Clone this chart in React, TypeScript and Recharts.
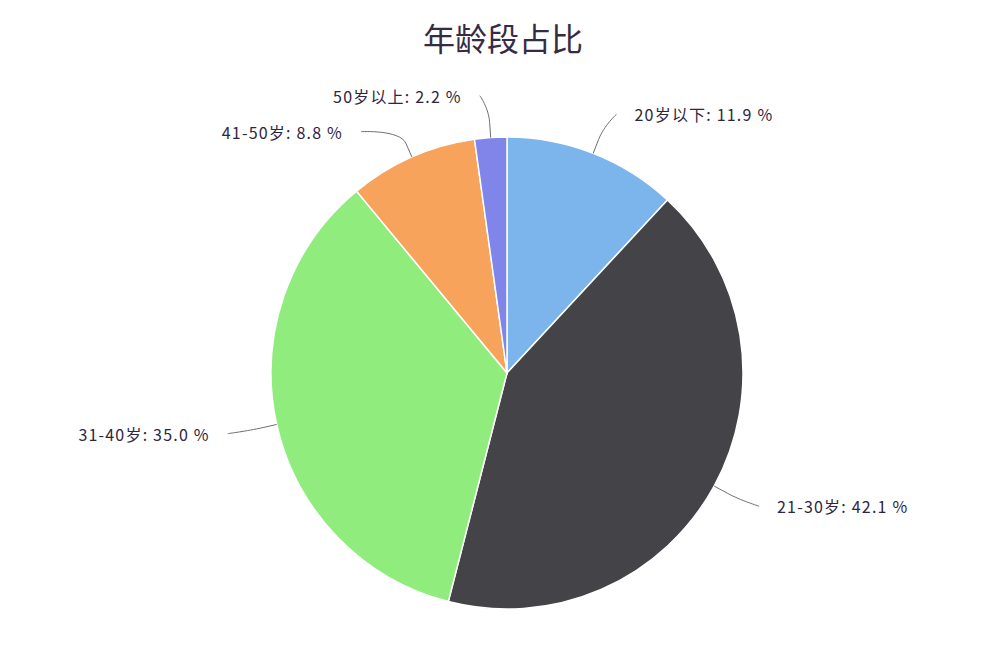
import { Cell, Pie, PieChart } from 'recharts';

const categories = ['20岁以下', '21-30岁', '31-40岁', '41-50岁', '50岁以上'];
const shares = [11.9, 42.1, 35.0, 8.8, 2.2];
const colors = ['#7cb5ec', '#434348', '#90ed7d', '#f7a35c', '#8085e9'];

const data = categories.map((name, i) => ({ name, value: shares[i] }));

const W = 1006;
const H = 672;
const CX = 507;
const CY = 373;
const R = 236;
const LABEL_R = 278;
const MIN_GAP = 36;
const RAD = Math.PI / 180;
const FONT = '"Noto Sans CJK SC", "Noto Sans", sans-serif';

// naive Highcharts-like overlap fix: push lower label down on each side
function labelYs(): number[] {
  const total = shares.reduce((a, b) => a + b, 0);
  let cum = 0;
  const items = shares.map((v, i) => {
    const mid = 90 - (360 * (cum + v / 2)) / total;
    cum += v;
    return { i, y: CY - LABEL_R * Math.sin(mid * RAD), right: Math.cos(mid * RAD) >= 0 };
  });
  const out: number[] = new Array(shares.length);
  [true, false].forEach((side) => {
    const list = items.filter((it) => it.right === side).sort((a, b) => a.y - b.y);
    list.forEach((it, k) => {
      if (k > 0 && it.y < out[list[k - 1].i] + MIN_GAP) out[it.i] = out[list[k - 1].i] + MIN_GAP;
      else out[it.i] = it.y;
    });
  });
  return out;
}

const ys = labelYs();

function renderLabel(props: any) {
  const { cx, cy, midAngle, outerRadius, index, name, value } = props;
  const cos = Math.cos(-midAngle * RAD);
  const sin = Math.sin(-midAngle * RAD);
  const right = cos >= 0;
  const ex = cx + outerRadius * cos;
  const ey = cy + outerRadius * sin;
  const bx = cx + (outerRadius + 15) * cos;
  const by = cy + (outerRadius + 15) * sin;
  const ly = ys[index];
  const dy = ly - cy;
  const half = Math.sqrt(Math.max(LABEL_R * LABEL_R - dy * dy, 0)) + 8;
  const lx = right ? cx + half : cx - half;
  const path = `M${lx},${ly} C${lx},${ly} ${2 * bx - ex},${2 * by - ey} ${bx},${by} L${ex},${ey}`;
  return (
    <g key={`lbl-${index}`}>
      <path d={path} fill="none" stroke="#6e6e78" strokeWidth={1} />
      <text
        x={right ? lx + 18 : lx - 18}
        y={ly}
        textAnchor={right ? 'start' : 'end'}
        dominantBaseline="central"
        fontFamily={FONT}
        fontSize={16}
        letterSpacing={1.2}
        fill="#2e2540"
      >
        {`${name}: ${Number(value).toFixed(1)} %`}
      </text>
    </g>
  );
}

export default function App() {
  return (
    <div style={{ position: 'relative', width: W, height: H, background: '#fff' }}>
      <style>{'body{margin:0}'}</style>
      <div
        style={{
          position: 'absolute',
          top: 19,
          left: 0,
          width: W,
          textAlign: 'center',
          fontFamily: FONT,
          fontSize: 32,
          lineHeight: '36px',
          color: '#352b45',
        }}
      >
        年龄段占比
      </div>
      <PieChart width={W} height={H} margin={{ top: 0, right: 0, bottom: 0, left: 0 }}>
        <Pie
          data={data}
          dataKey="value"
          nameKey="name"
          cx={CX}
          cy={CY}
          outerRadius={R}
          startAngle={90}
          endAngle={-270}
          stroke="#fff"
          strokeWidth={1.5}
          label={renderLabel}
          labelLine={false}
          isAnimationActive={false}
        >
          {data.map((d, i) => (
            <Cell key={d.name} fill={colors[i]} />
          ))}
        </Pie>
      </PieChart>
    </div>
  );
}
